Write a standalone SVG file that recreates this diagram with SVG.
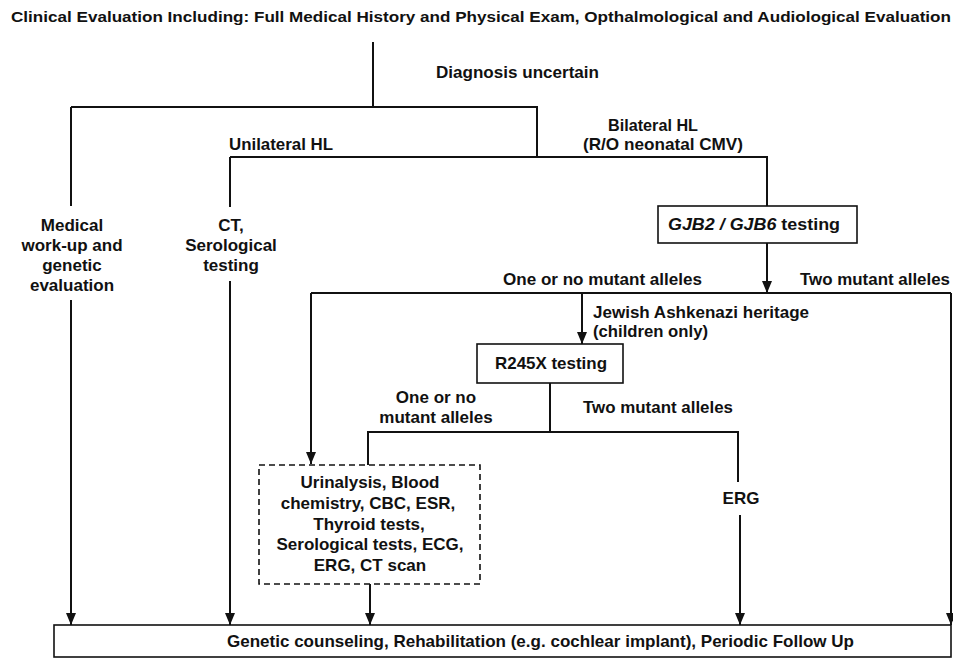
<svg xmlns="http://www.w3.org/2000/svg" width="953" height="659" viewBox="0 0 953 659">
<style>
text{font-family:"Liberation Sans",Arial,Helvetica,sans-serif;font-weight:bold;font-size:17px;fill:#111}
.t{font-size:15px}
.c{text-anchor:middle}
.ln{fill:none;stroke:#111;stroke-width:2}
.box{fill:#fff;stroke:#111;stroke-width:1.6}
.dash{fill:#fff;stroke:#111;stroke-width:1.6;stroke-dasharray:6 4}
</style>
<defs>
<marker id="ah" viewBox="0 0 12 10" refX="12" refY="5" markerWidth="12" markerHeight="10" markerUnits="userSpaceOnUse" orient="auto">
<path d="M0,0 L12,5 L0,10 Z" fill="#111"/>
</marker>
</defs>
<rect width="953" height="659" fill="#fff"/>
<g id="title"><text class="t" x="11" y="22" textLength="940" lengthAdjust="spacingAndGlyphs">Clinical Evaluation Including: Full Medical History and Physical Exam, Opthalmological and Audiological Evaluation</text></g>
<g id="connectors">
<path class="ln" d="M373,42 V107 M71,107 H537 V157 M230,157 H767 V206"/>
<path class="ln" d="M71,107 V206 M230,157 V207"/>
<path class="ln" d="M71,300 V625" marker-end="url(#ah)"/>
<path class="ln" d="M230,281 V625" marker-end="url(#ah)"/>
<path class="ln" d="M767,243 V293" marker-end="url(#ah)"/>
<path class="ln" d="M311,293 H951"/>
<path class="ln" d="M311,293 V464" marker-end="url(#ah)"/>
<path class="ln" d="M582,293 V344" marker-end="url(#ah)"/>
<path class="ln" d="M951,293 V625" marker-end="url(#ah)"/>
<path class="ln" d="M550,383 V432 M368,465 V432 H738 V482"/>
<path class="ln" d="M370,584 V625" marker-end="url(#ah)"/>
<path class="ln" d="M740,515 V625" marker-end="url(#ah)"/>
</g>
<g id="labels">
<text x="436" y="78" textLength="163" lengthAdjust="spacingAndGlyphs">Diagnosis uncertain</text>
<text x="608" y="131" textLength="90" lengthAdjust="spacingAndGlyphs">Bilateral HL</text>
<text x="583" y="150" textLength="160" lengthAdjust="spacingAndGlyphs">(R/O neonatal CMV)</text>
<text x="229" y="150" textLength="104" lengthAdjust="spacingAndGlyphs">Unilateral HL</text>
<text x="503" y="285" textLength="199" lengthAdjust="spacingAndGlyphs">One or no mutant alleles</text>
<text x="800" y="285" textLength="150" lengthAdjust="spacingAndGlyphs">Two mutant alleles</text>
<text x="593" y="318" textLength="216" lengthAdjust="spacingAndGlyphs">Jewish Ashkenazi heritage</text>
<text x="593" y="337" textLength="115" lengthAdjust="spacingAndGlyphs">(children only)</text>
<text class="c" x="436" y="403">One or no</text>
<text class="c" x="436" y="423">mutant alleles</text>
<text x="583" y="413" textLength="150" lengthAdjust="spacingAndGlyphs">Two mutant alleles</text>
</g>
<g id="medical">
<text class="c" x="72" y="231">Medical</text>
<text class="c" x="72" y="251">work-up and</text>
<text class="c" x="72" y="271">genetic</text>
<text class="c" x="72" y="291">evaluation</text>
</g>
<g id="ct">
<text class="c" x="231" y="231">CT,</text>
<text class="c" x="231" y="251">Serological</text>
<text class="c" x="231" y="271">testing</text>
</g>
<g id="gjb">
<rect class="box" x="658" y="206" width="199" height="37"/>
<text x="668" y="230" textLength="172" lengthAdjust="spacingAndGlyphs"><tspan font-style="italic">GJB2 / GJB6</tspan> testing</text>
</g>
<g id="r245x">
<rect class="box" x="477" y="344" width="146" height="39"/>
<text x="495" y="369" textLength="112" lengthAdjust="spacingAndGlyphs">R245X testing</text>
</g>
<g id="tests">
<rect class="dash" x="259" y="465" width="221" height="119"/>
<text class="c" x="370" y="488">Urinalysis, Blood</text>
<text class="c" x="368" y="509">chemistry, CBC, ESR,</text>
<text class="c" x="369" y="529.5">Thyroid tests,</text>
<text class="c" x="370" y="550">Serological tests, ECG,</text>
<text class="c" x="370" y="571">ERG, CT scan</text>
</g>
<g id="erg">
<text class="c" x="741" y="504">ERG</text>
</g>
<g id="final">
<rect class="box" x="54" y="625" width="897" height="32"/>
<text x="227" y="647" textLength="627" lengthAdjust="spacingAndGlyphs">Genetic counseling, Rehabilitation (e.g. cochlear implant), Periodic Follow Up</text>
</g>
</svg>
